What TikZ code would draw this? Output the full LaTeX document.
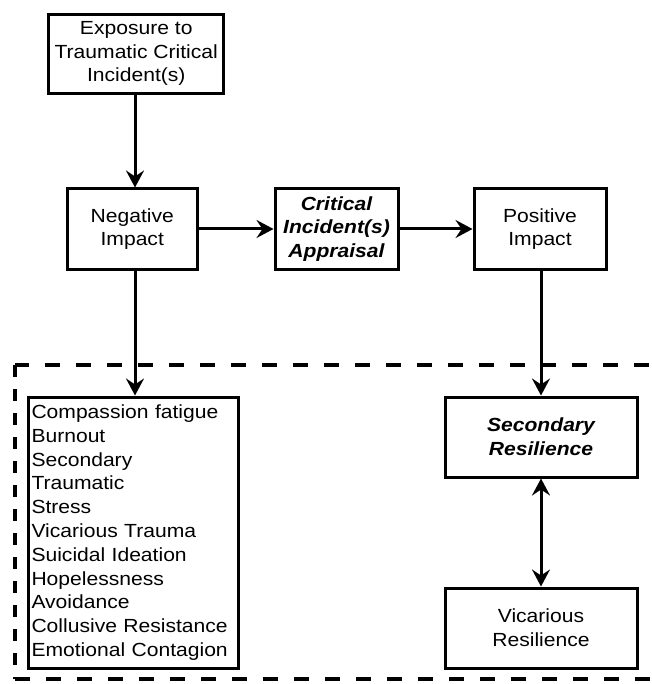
\documentclass[tikz,border=0pt]{standalone}
\usepackage{fontspec}
\setmainfont[FakeStretch=1.11]{Liberation Sans}
\usetikzlibrary{arrows.meta}
\begin{document}
\begin{tikzpicture}[x=1pt,y=-1pt,
  box/.style={draw=black,line width=3pt,align=center,inner sep=1pt,
    font=\fontsize{19}{23.6}\selectfont},
  emph/.style={font=\fontsize{19}{23.6}\selectfont\bfseries\itshape},
  arr/.style={line width=3pt,-{Stealth[length=17pt,width=18pt,inset=6pt]}},
  darr/.style={line width=3pt,{Stealth[length=17pt,width=18pt,inset=6pt]}-{Stealth[length=17pt,width=18pt,inset=6pt]}},
  grph/.style={line width=4.5pt,dash pattern=on 15pt off 16pt},
  grpv/.style={line width=4.5pt,dash pattern=on 12pt off 12pt}]
\useasboundingbox (0,0) rectangle (651,684);
\clip (0,0) rectangle (651,684);
\coordinate (tl) at (15,365);
\coordinate (bl) at (15,679);
\coordinate (tr) at (680,365);
\coordinate (br) at (680,679);
\draw[grph] (tr) -- (tl);
\draw[grpv] (tl) -- (bl);
\draw[grph] (bl) -- (br);
\coordinate (ax) at (135,0);
\coordinate (bx) at (541,0);
\node[box,minimum width=175pt,minimum height=79pt] (expo) at (136.25,53.75) {Exposure to\\Traumatic Critical\\Incident(s)};
\node[box,minimum width=130pt,minimum height=80pt] (neg) at (132.25,229) {Negative\\Impact};
\node[box,emph,minimum width=123pt,minimum height=80pt] (crit) at (336.5,229) {Critical\\Incident(s)\\Appraisal};
\node[box,minimum width=132pt,minimum height=80pt] (pos) at (540,229) {Positive\\Impact};
\node[box,minimum width=210pt,minimum height=271pt,text width=203pt,inner xsep=3.5pt,align=left,font=\fontsize{19}{23.8}\selectfont] (list) at (133,532.5) {Compassion fatigue\\Burnout\\Secondary\\Traumatic\\Stress\\Vicarious Trauma\\Suicidal Ideation\\Hopelessness\\Avoidance\\Collusive Resistance\\Emotional Contagion};
\node[box,emph,minimum width=192pt,minimum height=80pt] (sec) at (541,437) {Secondary\\Resilience};
\node[box,minimum width=192pt,minimum height=80pt] (vic) at (541,628) {Vicarious\\Resilience};
\draw[arr] (expo.south -| ax) -- (neg.north -| ax);
\draw[arr] (neg.east) -- (crit.west);
\draw[arr] (crit.east) -- (pos.west);
\draw[arr] (neg.south -| ax) -- (list.north -| ax);
\draw[arr] (pos.south -| bx) -- (sec.north -| bx);
\draw[darr] (sec.south -| bx) -- (vic.north -| bx);
\end{tikzpicture}
\end{document}
